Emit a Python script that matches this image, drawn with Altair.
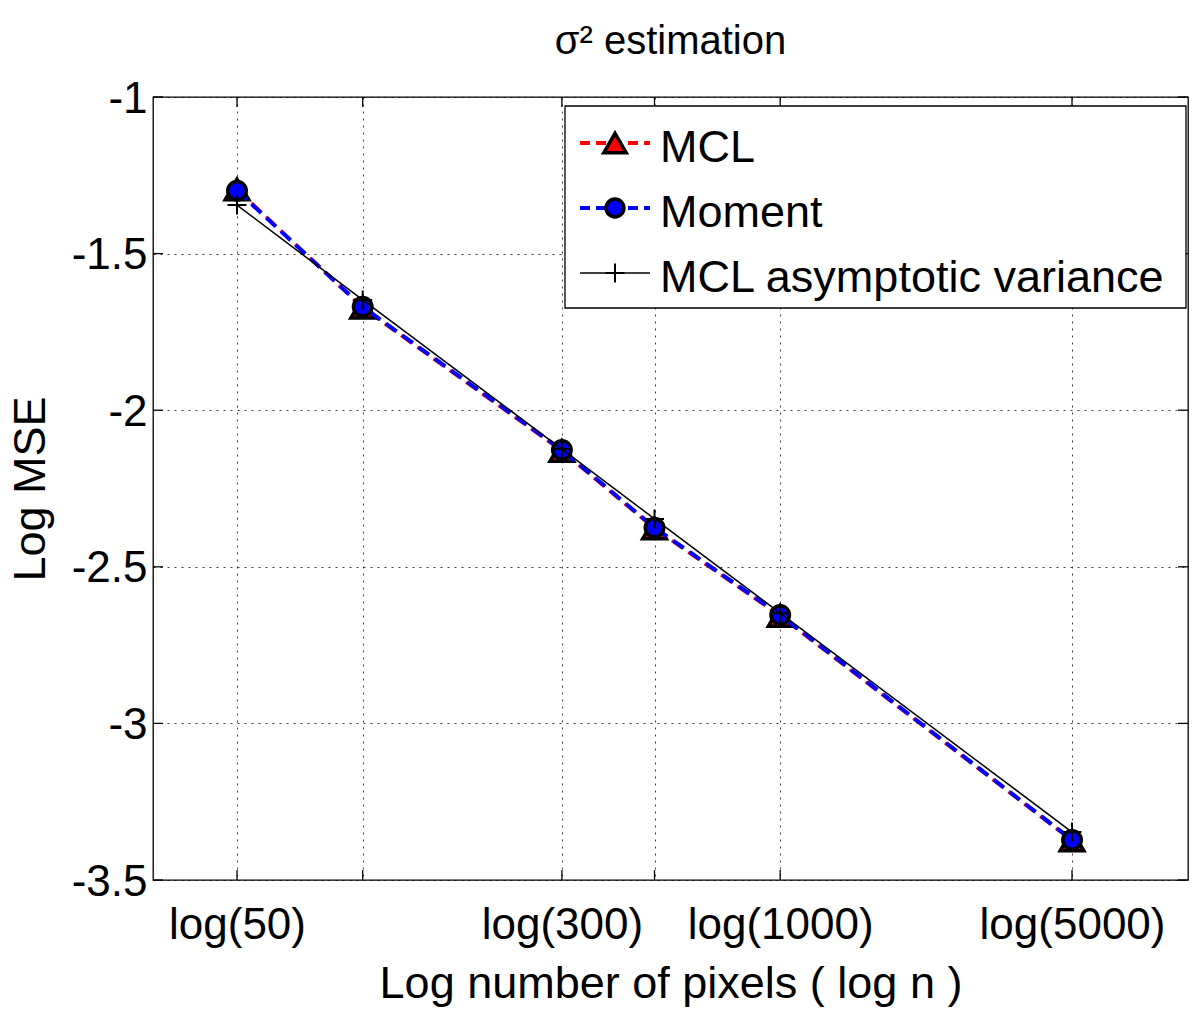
import altair as alt
import pandas as pd

# ---- data ----
n_pixels = [50, 100, 300, 500, 1000, 5000]
mcl_logmse = [-1.295, -1.673, -2.130, -2.378, -2.657, -3.374]
moment_logmse = [-1.299, -1.670, -2.127, -2.375, -2.654, -3.372]
asym_logmse = [-1.345, -1.648, -2.124, -2.347, -2.648, -3.347]

series_names = ["MCL", "Moment", "MCL asymptotic variance"]
x_tick_values = [50, 100, 300, 500, 1000, 5000]
x_tick_labels = ["log(50)", "", "log(300)", "", "log(1000)", "log(5000)"]
y_tick_values = [-1, -1.5, -2, -2.5, -3, -3.5]
chart_title = "σ² estimation"

FONT = "Liberation Sans"
W, H = 1035, 783

df_mcl = pd.DataFrame({"n": n_pixels, "v": mcl_logmse})
df_mom = pd.DataFrame({"n": n_pixels, "v": moment_logmse})
df_asy = pd.DataFrame({"n": n_pixels, "v": asym_logmse})
df_xt = pd.DataFrame({"n": x_tick_values})
df_yt = pd.DataFrame({"v": y_tick_values})

label_expr = " : ".join(
    f"datum.value == {v} ? '{l}'" for v, l in zip(x_tick_values, x_tick_labels)
) + " : ''"

x_scale = alt.Scale(type="log", domain=[31.46, 9479], nice=False)
y_scale = alt.Scale(domain=[-3.5, -1], nice=False, zero=False)

x_axis = alt.Axis(
    values=x_tick_values, labelExpr=label_expr, title="Log number of pixels ( log n )",
    grid=True, gridDash=[2, 5], gridColor="#000000", gridOpacity=0.75, gridWidth=1,
    ticks=False, tickSize=0, domain=False, labelLimit=0, labelOverlap=False,
    labelFont=FONT, labelFontSize=44, labelColor="#000000",
    labelBaseline="alphabetic", labelPadding=58, labelAlign="center",
    titleFont=FONT, titleFontSize=45, titleFontWeight="normal", titleColor="#000000",
    titleBaseline="alphabetic", titleY=117, titleX=W / 2, titleAnchor="middle",
)
y_axis = alt.Axis(
    values=y_tick_values, labelExpr="toString(datum.value)", title="Log MSE",
    grid=True, gridDash=[2, 5], gridColor="#000000", gridOpacity=0.75, gridWidth=1,
    ticks=False, tickSize=0, domain=False, labelLimit=0, labelOverlap=False,
    labelFont=FONT, labelFontSize=44, labelColor="#000000",
    labelBaseline="middle", labelPadding=6, labelOffset=2,
    titleFont=FONT, titleFontSize=45, titleFontWeight="normal", titleColor="#000000",
    titleAngle=-90, titleX=-123, titleY=H / 2, titleBaseline="middle", titleAlign="center",
)

X = alt.X("n:Q", scale=x_scale, axis=x_axis)
Y = alt.Y("v:Q", scale=y_scale, axis=y_axis)

DASH = [13, 7]

mcl_line = alt.Chart(df_mcl).mark_line(color="#ff0000", strokeWidth=3.5, strokeDash=DASH).encode(x=X, y=Y)
mcl_pts = alt.Chart(df_mcl).mark_point(
    shape="triangle-up", filled=True, fill="#ff0000", stroke="#000000", strokeWidth=3.5,
    size=560, opacity=1).encode(x=X, y=Y)
mom_line = alt.Chart(df_mom).mark_line(color="#0000ff", strokeWidth=4, strokeDash=DASH).encode(x=X, y=Y)
mom_pts = alt.Chart(df_mom).mark_point(
    shape="circle", filled=True, fill="#0000ff", stroke="#000000", strokeWidth=3.5,
    size=340, opacity=1).encode(x=X, y=Y)
asy_line = alt.Chart(df_asy).mark_line(color="#000000", strokeWidth=1.5).encode(x=X, y=Y)
asy_pts = alt.Chart(df_asy).mark_point(
    shape="M-1,0H1M0,-1V1", filled=False, stroke="#000000", strokeWidth=2,
    size=360, opacity=1).encode(x=X, y=Y)

# inward ticks on all four sides
TK = 10
tick_style = dict(color="#000000", strokeWidth=1.3)
xt_bottom = alt.Chart(df_xt).mark_rule(**tick_style).encode(
    x=alt.X("n:Q", scale=x_scale, axis=x_axis), y=alt.value(H), y2=alt.value(H - TK))
xt_top = alt.Chart(df_xt).mark_rule(**tick_style).encode(
    x=alt.X("n:Q", scale=x_scale, axis=x_axis), y=alt.value(0), y2=alt.value(TK))
yt_left = alt.Chart(df_yt).mark_rule(**tick_style).encode(
    y=alt.Y("v:Q", scale=y_scale, axis=y_axis), x=alt.value(0), x2=alt.value(TK))
yt_right = alt.Chart(df_yt).mark_rule(**tick_style).encode(
    y=alt.Y("v:Q", scale=y_scale, axis=y_axis), x=alt.value(W), x2=alt.value(W - TK))

# title (as a text mark above the plot area)
leg_one = pd.DataFrame({"k": [0]})
title_mark = alt.Chart(leg_one).mark_text(
    align="center", baseline="alphabetic", font=FONT, fontSize=40, color="#000000").encode(
    x=alt.value(W / 2), y=alt.value(-43), text=alt.value(chart_title))

# legend box (drawn manually, MATLAB style)
leg_box = alt.Chart(leg_one).mark_rect(fill="#ffffff", stroke="#000000", strokeWidth=1.3).encode(
    x=alt.value(412), x2=alt.value(1033), y=alt.value(9), y2=alt.value(211))

LX1, LX2, LXM, LTX = 427, 497, 462, 507
rows_sym = [46, 111, 176]
rows_txt = [51, 116, 181]

leg_layers = [leg_box]
line_specs = [
    dict(color="#ff0000", strokeWidth=4, strokeDash=[10, 6]),
    dict(color="#0000ff", strokeWidth=4, strokeDash=[10, 6]),
    dict(color="#000000", strokeWidth=1.5),
]
pt_specs = [
    dict(shape="triangle-up", filled=True, fill="#ff0000", stroke="#000000", strokeWidth=3.5, size=500, opacity=1),
    dict(shape="circle", filled=True, fill="#0000ff", stroke="#000000", strokeWidth=3.5, size=320, opacity=1),
    dict(shape="M-1,0H1M0,-1V1", filled=False, stroke="#000000", strokeWidth=2, size=360, opacity=1),
]
for i, name in enumerate(series_names):
    leg_layers.append(
        alt.Chart(leg_one).mark_rule(**line_specs[i]).encode(
            x=alt.value(LX1), x2=alt.value(LX2), y=alt.value(rows_sym[i]))
    )
    leg_layers.append(
        alt.Chart(leg_one).mark_point(**pt_specs[i]).encode(
            x=alt.value(LXM), y=alt.value(rows_sym[i]))
    )
    leg_layers.append(
        alt.Chart(leg_one).mark_text(
            align="left", baseline="middle", font=FONT, fontSize=45, color="#000000").encode(
            x=alt.value(LTX), y=alt.value(rows_txt[i]), text=alt.value(name))
    )

chart = alt.layer(
    mcl_line, mcl_pts, mom_line, mom_pts, asy_line, asy_pts,
    xt_bottom, xt_top, yt_left, yt_right,
    title_mark,
    *leg_layers,
).properties(
    width=W, height=H,
    autosize=alt.AutoSizeParams(type="none"),
    padding={"left": 153, "top": 97, "right": 5, "bottom": 130},
    background="#ffffff",
).configure_view(
    stroke="#000000", strokeWidth=1.3
)

chart.save("out.html", embed_options={"renderer": "svg", "actions": False})
